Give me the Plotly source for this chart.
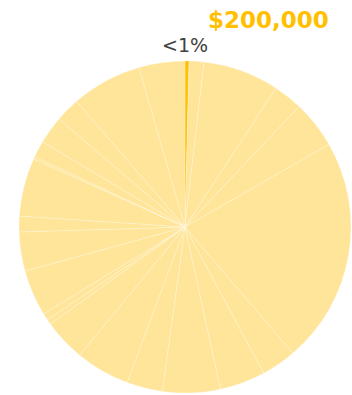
import plotly.graph_objects as go

# Slice values in dollars, clockwise from 12 o'clock (first slice is the highlighted one)
labels = [f"Item {i+1}" for i in range(24)]
values = [200000, 745000, 3842000, 1468000, 2403000, 11410000, 1755000, 2302000,
          2906000, 1799000, 2734000, 2130000, 259000, 345000, 2331000, 1971000,
          791000, 2935000, 115000, 849000, 1396000, 1237000, 3554000, 2317000]
highlight_value_label = "$200,000"
highlight_pct_label = "<1%"

base_color = "#FFE599"
highlight_color = "#FFC000"
colors = [highlight_color] + [base_color] * (len(values) - 1)

W, H = 352, 395

fig = go.Figure(go.Pie(
    labels=labels,
    values=values,
    sort=False,
    direction="clockwise",
    rotation=0,
    textinfo="none",
    hoverinfo="skip",
    marker=dict(colors=colors, line=dict(color="rgba(255,255,255,0.4)", width=0.6)),
    domain=dict(x=[19/W, 351/W], y=[2/H, 334/H]),
    showlegend=False,
))

fig.add_annotation(text=highlight_value_label, xref="paper", yref="paper",
                   x=268/W, y=1-20/H, xanchor="center", yanchor="middle",
                   showarrow=False,
                   font=dict(family="DejaVu Sans", size=23, color=highlight_color, weight="bold"))
fig.add_annotation(text=highlight_pct_label, xref="paper", yref="paper",
                   x=185/W, y=1-45/H, xanchor="center", yanchor="middle",
                   showarrow=False,
                   font=dict(family="DejaVu Sans", size=19, color="#404040"))

fig.update_layout(width=W, height=H, margin=dict(l=0, r=0, t=0, b=0),
                  paper_bgcolor="white", plot_bgcolor="white")
fig.write_html("out.html", config={"displayModeBar": False},
               post_script="document.body.style.margin='0';document.body.style.overflow='hidden';")
